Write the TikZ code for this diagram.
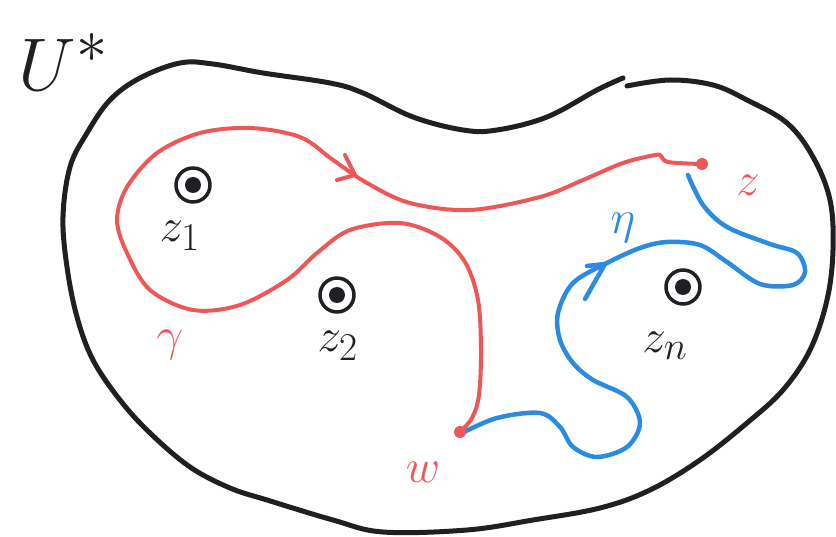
\documentclass[tikz,border=0pt]{standalone}
\usetikzlibrary{arrows.meta}
\definecolor{ink}{HTML}{1F1F24}
\definecolor{pen}{HTML}{EE5757}
\definecolor{sky}{HTML}{2B8BE0}
\begin{document}
\begin{tikzpicture}[x=1pt,y=-1pt, line cap=round, line join=round,
  blob/.style={draw=ink, line width=5pt},
  gam/.style={draw=pen, line width=4pt},
  etap/.style={draw=sky, line width=4.5pt},
  pole/.style={circle, draw=ink, line width=3.5pt, minimum size=34pt, inner sep=0pt},
  lab/.style={font=\Huge, scale=1.9, inner sep=0pt},
  biglab/.style={font=\Huge, scale=3.0, inner sep=0pt}]
\useasboundingbox (0,0) rectangle (836,537);

% outer region
\draw[blob] plot[smooth, tension=0.6] coordinates {
 (627,86) (670,80) (713,85) (747,100) (787,123) (813,157) (830,200) (833,250)
 (827,300) (810,350) (783,390) (747,423) (700,460) (650,490) (600,508) (533,520)
 (467,530) (383,532) (333,520) (267,500) (230,488) (190,467) (150,433) (120,400)
 (93,360) (77,317) (67,267) (63,217) (70,167) (87,133) (110,100) (140,78)
 (180,63) (213,64) (263,73) (330,83) (363,93) (413,117) (463,130) (497,130)
 (547,117) (597,90) (623,78)};

% points
\coordinate (w) at (460,432);
\coordinate (z) at (702,164);

% poles
\node[pole] (p1) at (193,185) {};
\node[pole] (p2) at (337,295) {};
\node[pole] (pn) at (683,287) {};
\fill[ink] (p1) circle (8pt);
\fill[ink] (p2) circle (8pt);
\fill[ink] (pn) circle (8pt);

% gamma
\draw[gam] plot[smooth, tension=0.55] coordinates {
 (460,432) (472,418) (479,395) (481,350) (478,300) (465,262) (440,237) (400,223)
 (350,230) (317,253) (287,280) (240,305) (193,310) (150,290) (127,253) (117,220)
 (127,187) (157,153) (200,133) (250,128) (300,137) (333,160) (367,183) (410,203)
 (470,210) (540,197) (583,180) (623,163) (655,155) (661,156) (668,162) (700,164)};
\coordinate (ga1) at (345,155);
\coordinate (gatip) at (355,175);
\coordinate (ga2) at (337,180);
\draw[gam] (ga1) -- (gatip) -- (ga2);

% eta
\draw[etap] plot[smooth, tension=0.55] coordinates {
 (460,434) (497,418) (540,413) (560,427) (573,447) (597,457) (627,447) (640,423)
 (627,397) (593,380) (573,363) (560,340) (558,313) (573,283) (607,263) (640,248)
 (667,242) (700,245) (727,262) (760,284) (793,285) (805,272) (797,253) (770,244)
 (727,227) (703,205) (688,175)};
\coordinate (ea1) at (585,299);
\coordinate (eatip) at (605,264);
\coordinate (ea2) at (587,266);
\draw[etap] (ea1) -- (eatip) -- (ea2);

\fill[pen] (w) circle (6pt);
\fill[pen] (z) circle (6pt);

% labels
\node[biglab, text=ink] (U) at (64,62) {$U^*$};
\node[lab, text=ink] (l1) at (180,236) {$z_1$};
\node[lab, text=ink] (l2) at (338,346) {$z_2$};
\node[lab, text=ink] (ln) at (665,346) {$z_n$};
\node[lab, text=pen] (lg) at (170,345) {$\gamma$};
\node[lab, text=sky] (le) at (623,228) {$\eta$};
\node[lab, text=pen] (lz) at (748,185) {$z$};
\node[lab, text=pen] (lw) at (423,472) {$w$};
\end{tikzpicture}
\end{document}
